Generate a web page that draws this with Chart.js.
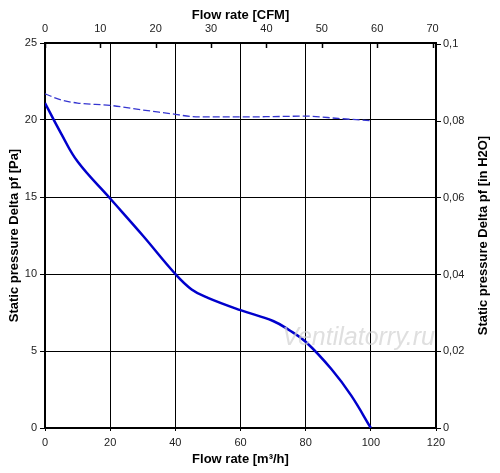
<!DOCTYPE html>
<html>
<head>
<meta charset="utf-8">
<script src="https://cdn.jsdelivr.net/npm/chart.js@4/dist/chart.umd.min.js"></script>
<style>
  html, body { margin: 0; padding: 0; background: #fff; }
  #wrap { width: 500px; height: 473px; position: relative; }
</style>
</head>
<body>
<div id="wrap"><canvas id="fanChart"></canvas></div>
<script>
// Fan curve: flow rate [m3/h] vs static pressure [Pa]
const flowSolid = [0, 5, 10, 20, 30, 40, 45, 50, 60, 70, 75, 80, 88, 94, 100];
const pressureSolid = [21.1, 19.1, 17.3, 14.9, 12.5, 10.0, 9.0, 8.45, 7.65, 6.95, 6.35, 5.6, 3.8, 2.1, 0];

const flowDashed = [0, 5, 10, 20, 30, 40, 45, 50, 60, 70, 80, 90, 100];
const pressureDashed = [21.7, 21.3, 21.1, 20.95, 20.65, 20.37, 20.22, 20.2, 20.2, 20.22, 20.25, 20.1, 19.95];

// Tick labels
const flowTicks = [0, 20, 40, 60, 80, 100, 120];
const cfmTicks = [0, 10, 20, 30, 40, 50, 60, 70];
const paTicks = [0, 5, 10, 15, 20, 25];
const inchTicks = [0, 0.02, 0.04, 0.06, 0.08, 0.1];

// Unit conversions for the secondary axes
const M3H_PER_CFM = 1.699;
const PA_PER_INH2O = 249.089;

const FONT = '"Liberation Sans", Arial, sans-serif';
const tickFont = { family: FONT, size: 11 };
const titleFont = { family: FONT, size: 13, weight: 'bold' };

function toPoints(xs, ys) {
    return xs.map((x, i) => ({ x: x, y: ys[i] }));
}

function fixedTicks(values) {
    return (scale) => {
        scale.ticks = values.map(v => ({ value: v }));
    };
}

// Top axis ticks point inwards, right title reads bottom-to-top, watermark
const extras = {
    id: 'extras',
    afterDatasetsDraw(chart) {
        const ctx = chart.ctx;
        const area = chart.chartArea;
        ctx.save();
        ctx.font = 'italic 25px ' + FONT;
        ctx.textAlign = 'right';
        ctx.textBaseline = 'alphabetic';
        ctx.fillStyle = 'rgba(210, 210, 210, 0.7)';
        ctx.fillText('Ventilatorry.ru', area.right - 1, area.top + 302);
        ctx.restore();
    },
    afterDraw(chart) {
        const ctx = chart.ctx;
        const area = chart.chartArea;
        const top = chart.scales.x2;
        ctx.save();
        ctx.strokeStyle = '#000';
        ctx.lineWidth = 1.5;
        top.ticks.forEach(t => {
            const px = Math.round(top.getPixelForValue(t.value)) + 0.5;
            ctx.beginPath();
            ctx.moveTo(px, area.top);
            ctx.lineTo(px, area.top + 5);
            ctx.stroke();
        });

        ctx.translate(483, (area.top + area.bottom) / 2);
        ctx.rotate(-Math.PI / 2);
        ctx.font = 'bold 13px ' + FONT;
        ctx.fillStyle = '#000';
        ctx.textAlign = 'center';
        ctx.textBaseline = 'middle';
        ctx.fillText('Static pressure Delta pf [in H2O]', 0, 0);
        ctx.restore();
    }
};

const ctx = document.getElementById('fanChart').getContext('2d');
new Chart(ctx, {
    type: 'line',
    data: {
        datasets: [
            {
                data: toPoints(flowDashed, pressureDashed),
                borderColor: '#3535d0',
                borderWidth: 1.3,
                borderDash: [7, 3],
                pointRadius: 0,
                cubicInterpolationMode: 'monotone',
                xAxisID: 'x',
                yAxisID: 'y'
            },
            {
                data: toPoints(flowSolid, pressureSolid),
                borderColor: '#0000cc',
                borderWidth: 2.5,
                pointRadius: 0,
                tension: 0.4,
                xAxisID: 'x',
                yAxisID: 'y'
            }
        ]
    },
    options: {
        responsive: true,
        maintainAspectRatio: false,
        animation: false,
        events: [],
        layout: { padding: 0 },
        plugins: {
            legend: { display: false },
            tooltip: { enabled: false }
        },
        scales: {
            x: {
                type: 'linear',
                position: 'bottom',
                min: 0,
                max: 120,
                afterBuildTicks: fixedTicks(flowTicks),
                afterFit: (s) => { s.height = 45; },
                grid: { color: '#000', lineWidth: 1, tickLength: 3 },
                border: { color: '#000', width: 1.5 },
                ticks: { color: '#222', font: tickFont, padding: 5, maxRotation: 0 },
                title: { display: true, text: 'Flow rate [m³/h]', color: '#000', font: titleFont, padding: { top: 0, bottom: 6 } }
            },
            x2: {
                type: 'linear',
                position: 'top',
                min: 0,
                max: 120 / M3H_PER_CFM,
                afterBuildTicks: fixedTicks(cfmTicks),
                afterFit: (s) => { s.height = 43; },
                grid: { drawOnChartArea: false, drawTicks: false },
                border: { color: '#000', width: 1.5 },
                ticks: { color: '#222', font: tickFont, padding: 7, maxRotation: 0 },
                title: { display: true, text: 'Flow rate [CFM]', color: '#000', font: titleFont, padding: { top: 8, bottom: 0 } }
            },
            y: {
                type: 'linear',
                position: 'left',
                min: 0,
                max: 25,
                afterBuildTicks: fixedTicks(paTicks),
                afterFit: (s) => { s.width = 45; },
                grid: { color: '#000', lineWidth: 1, tickLength: 5 },
                border: { color: '#000', width: 1.5 },
                ticks: { color: '#222', font: tickFont, padding: 3 },
                title: { display: true, text: 'Static pressure Delta pf [Pa]', color: '#000', font: titleFont, padding: { top: 7, bottom: 0 } }
            },
            y2: {
                type: 'linear',
                position: 'right',
                min: 0,
                max: 25 / PA_PER_INH2O,
                afterBuildTicks: fixedTicks(inchTicks),
                afterFit: (s) => { s.width = 64; },
                grid: { drawOnChartArea: false, color: '#000', tickLength: 5 },
                border: { color: '#000', width: 1.5 },
                ticks: {
                    color: '#222',
                    font: tickFont,
                    padding: 2,
                    callback: (v) => String(v).replace('.', ',')
                }
            }
        }
    },
    plugins: [extras]
});
</script>
</body>
</html>
